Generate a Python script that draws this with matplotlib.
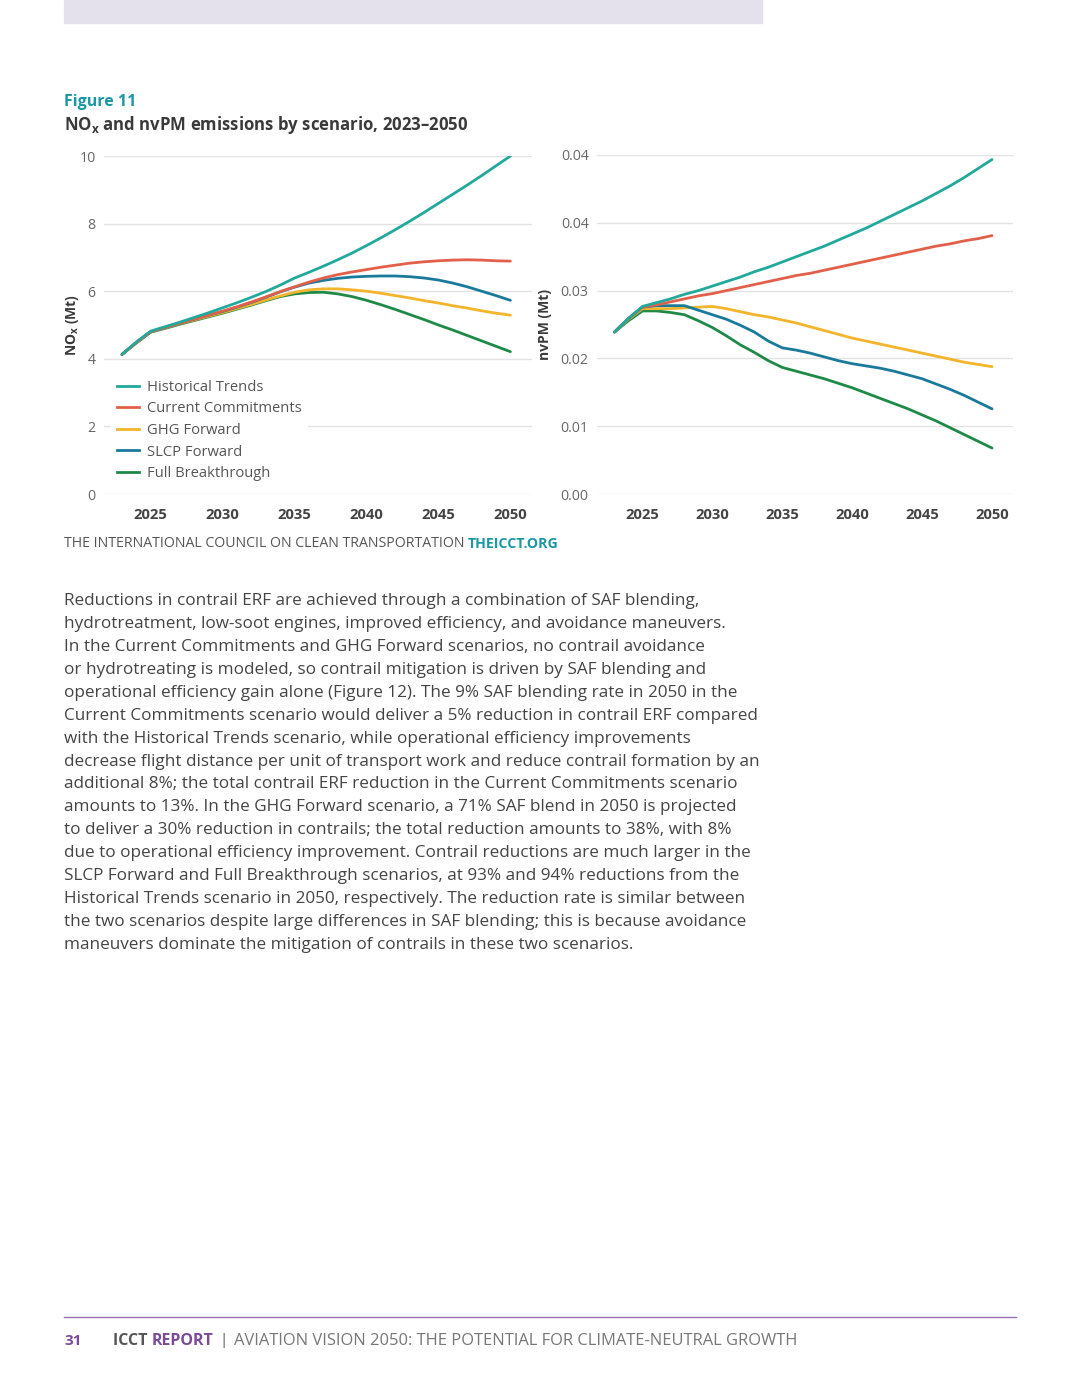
import numpy as np
import matplotlib
matplotlib.use("Agg")
import matplotlib.pyplot as plt
from matplotlib.patches import Rectangle
from matplotlib.lines import Line2D

FONT = "Open Sans"
plt.rcParams['font.family'] = [FONT, 'DejaVu Sans']
plt.rcParams['mathtext.fontset'] = 'custom'
plt.rcParams['mathtext.rm'] = FONT
plt.rcParams['mathtext.bf'] = FONT + ':bold'

# --- data ---
years = list(range(2023, 2051))
scenarios = ["Historical Trends", "Current Commitments", "GHG Forward",
             "SLCP Forward", "Full Breakthrough"]
colors = ["#21A99B", "#E2604A", "#F2B52B", "#1A7A9C", "#1F8A47"]

nox_ht = [4.13, 4.50, 4.82, 4.95, 5.08, 5.22, 5.36, 5.51, 5.66, 5.82, 5.99, 6.18, 6.39, 6.56,
          6.74, 6.93, 7.13, 7.35, 7.58, 7.82, 8.07, 8.33, 8.60, 8.87, 9.14, 9.42, 9.71, 10.0]
nox_cc = [4.13, 4.48, 4.80, 4.93, 5.05, 5.17, 5.29, 5.41, 5.54, 5.68, 5.83, 5.99, 6.13, 6.27,
          6.39, 6.49, 6.57, 6.64, 6.71, 6.77, 6.83, 6.87, 6.90, 6.92, 6.93, 6.92, 6.90, 6.89]
nox_ghg = [4.13, 4.48, 4.80, 4.92, 5.04, 5.15, 5.26, 5.37, 5.49, 5.61, 5.74, 5.86, 5.97, 6.04,
           6.07, 6.07, 6.04, 6.00, 5.94, 5.87, 5.80, 5.72, 5.65, 5.57, 5.50, 5.42, 5.35, 5.29]
nox_slcp = [4.13, 4.48, 4.80, 4.93, 5.05, 5.17, 5.29, 5.40, 5.53, 5.67, 5.82, 5.98, 6.12, 6.24,
            6.32, 6.38, 6.42, 6.44, 6.45, 6.45, 6.43, 6.39, 6.33, 6.24, 6.13, 6.00, 5.87, 5.73]
nox_fb = [4.13, 4.47, 4.79, 4.90, 5.02, 5.13, 5.24, 5.35, 5.47, 5.59, 5.72, 5.84, 5.92, 5.96,
          5.97, 5.92, 5.84, 5.73, 5.60, 5.46, 5.31, 5.16, 5.00, 4.85, 4.69, 4.53, 4.37, 4.21]

pm_ht = [0.0215, 0.0233, 0.0249, 0.0254, 0.0259, 0.0265, 0.0270, 0.0276, 0.0282, 0.0288,
         0.0295, 0.0301, 0.0308, 0.0315, 0.0322, 0.0329, 0.0337, 0.0345, 0.0353, 0.0362,
         0.0371, 0.0380, 0.0389, 0.0399, 0.0409, 0.0420, 0.0432, 0.0444]
pm_cc = [0.0215, 0.0233, 0.0248, 0.0251, 0.0255, 0.0259, 0.0263, 0.0266, 0.0270, 0.0274,
         0.0278, 0.0282, 0.0286, 0.0290, 0.0293, 0.0297, 0.0301, 0.0305, 0.0309, 0.0313,
         0.0317, 0.0321, 0.0325, 0.0329, 0.0332, 0.0336, 0.0339, 0.0343]
pm_ghg = [0.0215, 0.0232, 0.0246, 0.0246, 0.0246, 0.0247, 0.0248, 0.0249, 0.0246, 0.0242,
          0.0238, 0.0235, 0.0231, 0.0227, 0.0222, 0.0217, 0.0212, 0.0207, 0.0203, 0.0199,
          0.0195, 0.0191, 0.0187, 0.0183, 0.0179, 0.0175, 0.0172, 0.0169]
pm_slcp = [0.0215, 0.0233, 0.0248, 0.0250, 0.0250, 0.0250, 0.0244, 0.0238, 0.0232, 0.0224,
           0.0215, 0.0203, 0.0194, 0.0191, 0.0187, 0.0182, 0.0177, 0.0173, 0.0170, 0.0167,
           0.0163, 0.0158, 0.0153, 0.0146, 0.0139, 0.0131, 0.0122, 0.0113]
pm_fb = [0.0215, 0.0230, 0.0243, 0.0243, 0.0241, 0.0238, 0.0230, 0.0221, 0.0210, 0.0198,
         0.0188, 0.0177, 0.0168, 0.0163, 0.0158, 0.0153, 0.0147, 0.0141, 0.0134, 0.0127,
         0.0120, 0.0113, 0.0105, 0.0097, 0.0088, 0.0079, 0.0070, 0.0061]

x_ticks = [2025, 2030, 2035, 2040, 2045, 2050]
nox_ticks = [0, 2, 4, 6, 8, 10]
pm_ticks = [0.0, 0.009, 0.018, 0.027, 0.036, 0.045]
pm_tick_labels = ["0.00", "0.01", "0.02", "0.03", "0.04", "0.04"]

body = [
    "Reductions in contrail ERF are achieved through a combination of SAF blending,",
    "hydrotreatment, low-soot engines, improved efficiency, and avoidance maneuvers.",
    "In the Current Commitments and GHG Forward scenarios, no contrail avoidance",
    "or hydrotreating is modeled, so contrail mitigation is driven by SAF blending and",
    "operational efficiency gain alone (Figure 12). The 9% SAF blending rate in 2050 in the",
    "Current Commitments scenario would deliver a 5% reduction in contrail ERF compared",
    "with the Historical Trends scenario, while operational efficiency improvements",
    "decrease flight distance per unit of transport work and reduce contrail formation by an",
    "additional 8%; the total contrail ERF reduction in the Current Commitments scenario",
    "amounts to 13%. In the GHG Forward scenario, a 71% SAF blend in 2050 is projected",
    "to deliver a 30% reduction in contrails; the total reduction amounts to 38%, with 8%",
    "due to operational efficiency improvement. Contrail reductions are much larger in the",
    "SLCP Forward and Full Breakthrough scenarios, at 93% and 94% reductions from the",
    "Historical Trends scenario in 2050, respectively. The reduction rate is similar between",
    "the two scenarios despite large differences in SAF blending; this is because avoidance",
    "maneuvers dominate the mitigation of contrails in these two scenarios.",
]

W, H = 1080, 1398
fig = plt.figure(figsize=(W / 100, H / 100), dpi=100)
fig.patch.set_facecolor("white")

def fx(px):
    return px / W

def fy(py):
    return 1 - py / H

TEAL = "#1C97A6"
PURPLE = "#7A4B97"
DARK = "#3A3A3A"
GRAY = "#555555"

# top band
fig.patches.append(Rectangle((fx(64), fy(23)), fx(762) - fx(64), fy(0) - fy(23),
                             transform=fig.transFigure, color="#E4E0EC", zorder=0))

fig.text(fx(64), fy(102), "Figure 11", color=TEAL, fontsize=11.5, fontweight="bold", va="center")
fig.text(fx(64), fy(125), r"NO$_\mathbf{x}$ and nvPM emissions by scenario, 2023–2050",
         color=DARK, fontsize=12.1, fontweight="bold", va="center")

ax1 = fig.add_axes([fx(104), fy(494), fx(532) - fx(104), fy(156) - fy(494)])
ax2 = fig.add_axes([fx(597), fy(494), fx(1013) - fx(597), fy(155) - fy(494)])

nox = [nox_ht, nox_cc, nox_ghg, nox_slcp, nox_fb]
pm = [pm_ht, pm_cc, pm_ghg, pm_slcp, pm_fb]
order = [4, 2, 3, 1, 0]
for i in order:
    ax1.plot(years, nox[i], color=colors[i], lw=2.0, solid_capstyle="round", zorder=3)
    ax2.plot(years, pm[i], color=colors[i], lw=2.0, solid_capstyle="round", zorder=3)

for ax, yt in [(ax1, nox_ticks), (ax2, pm_ticks)]:
    ax.set_xlim(2021.75, 2051.5)
    ax.set_ylim(yt[0], yt[-1])
    ax.set_xticks(x_ticks)
    ax.set_yticks(yt)
    ax.grid(axis="y", color="#E3E3E3", lw=1.0)
    ax.set_axisbelow(True)
    for s in ax.spines.values():
        s.set_visible(False)
    ax.tick_params(length=0)
    ax.tick_params(axis="x", pad=10, labelsize=10.6, labelcolor="#444444")
    ax.tick_params(axis="y", pad=6, labelsize=10.2, labelcolor="#666666")
    for lab in ax.get_xticklabels():
        lab.set_fontweight("bold")

ax2.set_yticklabels(pm_tick_labels)

ax1.set_ylabel(r"NO$_\mathbf{x}$ (Mt)", fontsize=10, fontweight="bold", color=DARK, labelpad=-1)
ax2.set_ylabel("nvPM (Mt)", fontsize=10, fontweight="bold", color=DARK, labelpad=6)

handles = [Line2D([0], [0], color=c, lw=2.0) for c in colors]
leg = ax1.legend(handles, scenarios, loc="upper left", bbox_to_anchor=(0.0, 0.375),
                 frameon=True, facecolor="white", edgecolor="white", framealpha=1,
                 fontsize=10.6, handlelength=1.5, handletextpad=0.6, labelspacing=0.45,
                 borderpad=0.35)
for t in leg.get_texts():
    t.set_color(GRAY)

# source line
src = fig.text(fx(64), fy(544), "THE INTERNATIONAL COUNCIL ON CLEAN TRANSPORTATION ",
               color=GRAY, fontsize=10.2, va="center")
fig.canvas.draw()
bb = src.get_window_extent()
fig.text(bb.x1 / W, fy(544), "THEICCT.ORG", color=TEAL, fontsize=10.2,
         fontweight="bold", va="center")

# body text
for k, line in enumerate(body):
    fig.text(fx(64), fy(601 + k * 22.93), line, color="#444444", fontsize=12.35, va="center")

# footer
fig.add_artist(Line2D([fx(64), fx(1016)], [fy(1317), fy(1317)], color="#9C72AE", lw=1.0))
fig.text(fx(64), fy(1341), "31", color=PURPLE, fontsize=11, fontweight="bold", va="center")
t1 = fig.text(fx(113), fy(1341), "ICCT ", color="#555555", fontsize=11.5, fontweight="bold", va="center")
fig.canvas.draw()
x = t1.get_window_extent().x1
t2 = fig.text(x / W, fy(1341), "REPORT", color=PURPLE, fontsize=11.5, fontweight="bold", va="center")
fig.canvas.draw()
x = t2.get_window_extent().x1
t3 = fig.text(x / W + fx(6), fy(1341), "|", color="#555555", fontsize=11, va="center")
fig.canvas.draw()
x = t3.get_window_extent().x1
fig.text(x / W + fx(6), fy(1341), "AVIATION VISION 2050: THE POTENTIAL FOR CLIMATE-NEUTRAL GROWTH",
         color="#777777", fontsize=11.9, va="center")

fig.savefig("out.png", dpi=100, facecolor="white")
